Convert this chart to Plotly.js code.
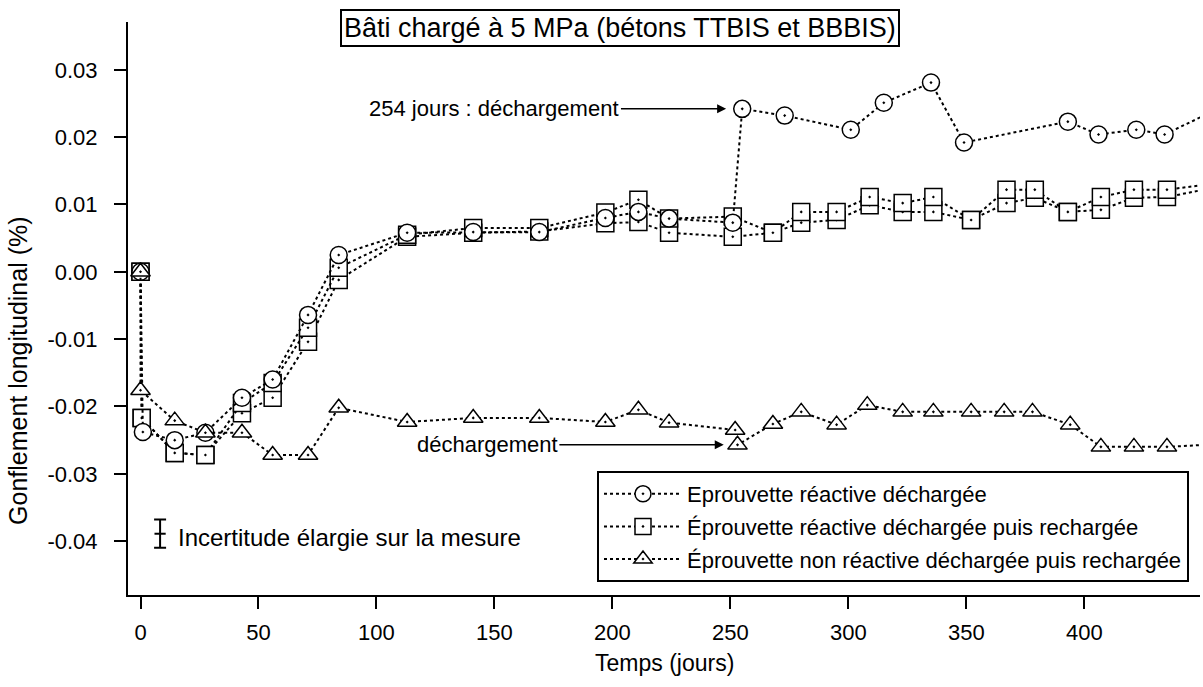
<!DOCTYPE html>
<html>
<head>
<meta charset="utf-8">
<script src="https://cdn.plot.ly/plotly-3.0.1.min.js"></script>
<style>html,body{margin:0;padding:0;background:#fff;}#chart{width:1203px;height:687px;}</style>
</head>
<body>
<div id="chart"></div>
<script>
// ---- data ----
const circleDays = [0, 1, 14.5, 27.5, 43, 56, 71, 84, 113, 141, 169, 197, 211, 224, 251, 255, 273, 301, 315, 335, 349, 393, 406, 422, 434, 462];
const circleVals = [0.0, -0.0238, -0.0250, -0.0239, -0.0187, -0.0160, -0.0064, 0.0025, 0.0058, 0.0059, 0.0059, 0.0080, 0.0089, 0.0079, 0.0073, 0.0242, 0.0232, 0.0211, 0.0251, 0.0281, 0.0192, 0.0223, 0.0204, 0.0211, 0.0204, 0.0251];

const squareDays = [0, 0.5, 14.5, 27.5, 43, 56, 71, 84, 113, 141, 169, 197, 211, 224, 251, 268, 280, 295, 309, 323, 336, 352, 367, 379, 393, 407, 421, 435, 462];
const squareAVals = [0.0, -0.0217, -0.0269, -0.0272, -0.0195, -0.0165, -0.0083, 0.0006, 0.0055, 0.0065, 0.0065, 0.0088, 0.0107, 0.0079, 0.0082, 0.0058, 0.0089, 0.0089, 0.0111, 0.0102, 0.0111, 0.0077, 0.0122, 0.0122, 0.0089, 0.0111, 0.0122, 0.0122, 0.0134];
const squareBVals = [0.0, -0.0217, -0.0269, -0.0272, -0.0210, -0.0187, -0.0104, -0.0012, 0.0052, 0.0058, 0.0060, 0.0072, 0.0074, 0.0058, 0.0052, 0.0058, 0.0073, 0.0077, 0.0099, 0.0089, 0.0089, 0.0077, 0.0102, 0.0110, 0.0089, 0.0092, 0.0110, 0.0111, 0.0130];

const triangleDays = [0, 0, 14.5, 27.5, 43, 56, 71, 84, 113, 141, 169, 197, 211, 224, 252, 253, 268, 280, 295, 308, 323, 336, 352, 366, 378, 394, 407, 421, 435, 462];
const triangleVals = [0.0, -0.0176, -0.0221, -0.0239, -0.0239, -0.0272, -0.0272, -0.0202, -0.0223, -0.0217, -0.0217, -0.0223, -0.0205, -0.0224, -0.0235, -0.0257, -0.0226, -0.0208, -0.0227, -0.0198, -0.0208, -0.0208, -0.0208, -0.0208, -0.0208, -0.0227, -0.0260, -0.0260, -0.0260, -0.0255];

const seriesNames = [
  "Eprouvette réactive déchargée",
  "Éprouvette réactive déchargée puis rechargée",
  "Éprouvette non réactive déchargée puis rechargée"
];

const uncertDay = [8.3];
const uncertVal = [-0.0389];
const uncertHalf = [0.0021];

const xTickVals = [0, 50, 100, 150, 200, 250, 300, 350, 400];
const yTickVals = [0.03, 0.02, 0.01, 0.0, -0.01, -0.02, -0.03, -0.04];
const yTickText = ["0.03", "0.02", "0.01", "0.00", "-0.01", "-0.02", "-0.03", "-0.04"];

const titleText = "Bâti chargé à 5 MPa (bétons TTBIS et BBBIS)";
const xTitle = "Temps (jours)";
const yTitle = "Gonflement longitudinal (%)";
const arrow1Text = "254 jours : déchargement";
const arrow2Text = "déchargement";
const uncertText = "Incertitude élargie sur la mesure";

// ---- styling ----
const FONT = "Liberation Sans, Arial, Helvetica, sans-serif";
const lineStyle = {color: "black", width: 2, dash: "dot"};
function mk(symbol) {
  return {symbol: symbol, size: 17, color: "white", line: {color: "black", width: 1.5}};
}

const traces = [
  {x: squareDays, y: squareBVals, mode: "lines+markers", line: lineStyle, marker: mk("square-dot"),
   name: seriesNames[1], legendgroup: "sq", showlegend: false, hoverinfo: "x+y"},
  {x: squareDays, y: squareAVals, mode: "lines+markers", line: lineStyle, marker: mk("square-dot"),
   name: seriesNames[1], legendgroup: "sq", showlegend: true, legendrank: 2},
  {x: circleDays, y: circleVals, mode: "lines+markers", line: lineStyle, marker: mk("circle-dot"),
   name: seriesNames[0], legendgroup: "ci", legendrank: 1},
  {x: triangleDays, y: triangleVals, mode: "lines+markers", line: lineStyle, marker: mk("triangle-up-dot"),
   name: seriesNames[2], legendgroup: "tr", legendrank: 3},
  {x: uncertDay, y: uncertVal, mode: "markers", showlegend: false,
   marker: {symbol: "line-ew", size: 8, line: {color: "black", width: 2}},
   error_y: {type: "data", array: uncertHalf, visible: true, color: "black", thickness: 2, width: 6}}
];

const layout = {
  width: 1203, height: 687,
  margin: {l: 128, r: 3, t: 22, b: 92},
  paper_bgcolor: "white", plot_bgcolor: "white",
  font: {family: FONT, color: "black", size: 22},
  showlegend: true,
  legend: {
    x: 0.4375, y: 0.2164, xanchor: "left", yanchor: "top",
    bgcolor: "white", bordercolor: "black", borderwidth: 2,
    font: {family: FONT, size: 22, color: "black"},
    itemwidth: 78, traceorder: "grouped", tracegroupgap: 1
  },
  xaxis: {
    range: [-5.3, 449], showgrid: false, zeroline: false,
    showline: true, linecolor: "black", linewidth: 2,
    ticks: "outside", ticklen: 12, tickwidth: 2, tickcolor: "black",
    tickmode: "array", tickvals: xTickVals, ticklabelstandoff: 5,
    tickfont: {family: FONT, size: 22}
  },
  yaxis: {
    range: [-0.048, 0.0371], showgrid: false, zeroline: false,
    showline: true, linecolor: "black", linewidth: 2,
    ticks: "outside", ticklen: 12, tickwidth: 2, tickcolor: "black",
    tickmode: "array", tickvals: yTickVals, ticktext: yTickText, ticklabelstandoff: 12,
    tickfont: {family: FONT, size: 22}
  },
  annotations: [
    {xref: "paper", yref: "paper", x: 0.459, y: 0.9895, xanchor: "center", yanchor: "middle",
     text: titleText, showarrow: false, font: {family: FONT, size: 27},
     bordercolor: "black", borderwidth: 2, borderpad: 2, bgcolor: "white"},
    {xref: "paper", yref: "paper", x: 0.5, y: -0.1187, xanchor: "center", yanchor: "middle",
     text: xTitle, showarrow: false, font: {family: FONT, size: 23}},
    {xref: "paper", yref: "paper", x: -0.1026, y: 0.391, xanchor: "center", yanchor: "middle",
     text: yTitle, textangle: -90, showarrow: false, font: {family: FONT, size: 25}},
    {xref: "x", yref: "y", x: 252, y: 0.0242, axref: "x", ayref: "y", ax: 150, ay: 0.0242,
     text: arrow1Text, showarrow: true, arrowhead: 2, arrowsize: 1.2, arrowwidth: 1.5, arrowcolor: "black",
     standoff: 9, font: {family: FONT, size: 22}},
    {xref: "x", yref: "y", x: 251, y: -0.0257, axref: "x", ayref: "y", ax: 147, ay: -0.0257,
     text: arrow2Text, showarrow: true, arrowhead: 2, arrowsize: 1.2, arrowwidth: 1.5, arrowcolor: "black",
     standoff: 9, font: {family: FONT, size: 22}},
    {xref: "x", yref: "y", x: 15.2, y: -0.0395, xanchor: "left", yanchor: "middle",
     text: uncertText, showarrow: false, font: {family: FONT, size: 24}}
  ]
};

Plotly.newPlot("chart", traces, layout, {displayModeBar: false, staticPlot: true});
</script>
</body>
</html>
